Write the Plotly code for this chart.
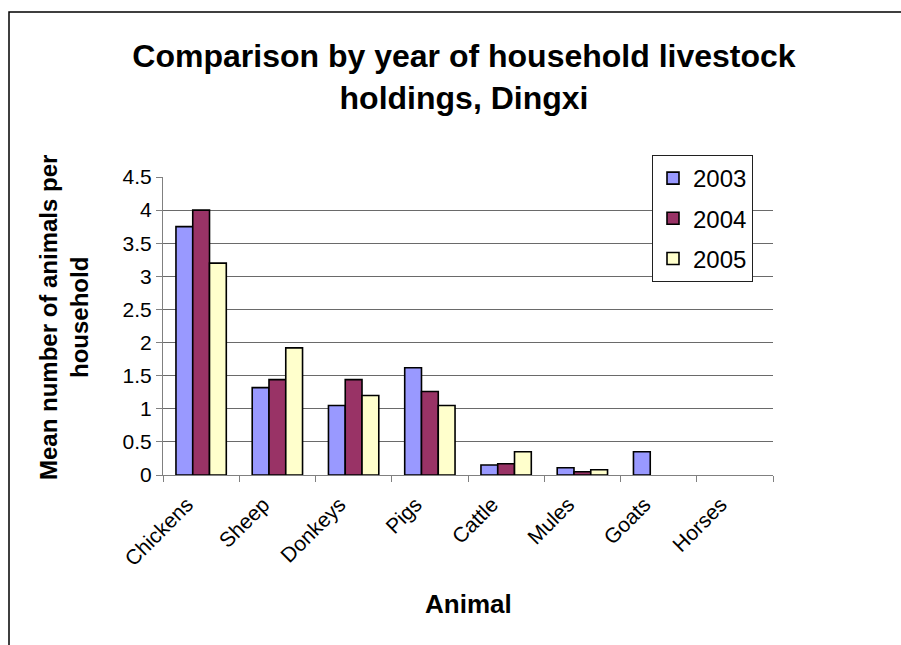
import plotly.graph_objects as go

# Mean number of animals per household, by year
animals = ["Chickens", "Sheep", "Donkeys", "Pigs", "Cattle", "Mules", "Goats", "Horses"]
years = ["2003", "2004", "2005"]
vals_2003 = [3.75, 1.32, 1.05, 1.62, 0.15, 0.11, 0.35, 0.0]
vals_2004 = [4.00, 1.44, 1.44, 1.26, 0.17, 0.05, 0.0, 0.0]
vals_2005 = [3.20, 1.92, 1.20, 1.05, 0.35, 0.08, 0.0, 0.0]
colors = ["#9999FF", "#993366", "#FFFFCC"]
y_ticks = [0, 0.5, 1, 1.5, 2, 2.5, 3, 3.5, 4, 4.5]

W, H = 901, 645
L, R, T, B = 163, 773, 177, 475  # plot area in pixels


def px(x):
    return (x - L) / (R - L)


def py(y):
    return (B - y) / (B - T)


FONT = "Liberation Sans, Arial, sans-serif"

fig = go.Figure()
for yr, vals, col in zip(years, [vals_2003, vals_2004, vals_2005], colors):
    fig.add_trace(go.Bar(
        x=animals, y=vals, name=yr, legendgroup=yr,
        marker=dict(color=col,
                    line=dict(color="black", width=[1.6 if v > 0 else 0 for v in vals])),
    ))

fig.update_layout(
    width=W, height=H,
    margin=dict(l=L, r=W - R, t=T, b=H - B, pad=0),
    paper_bgcolor="white", plot_bgcolor="white",
    barmode="group", bargap=0.34, bargroupgap=0,
    font=dict(family=FONT, color="black"),
    title=dict(
        text="<b>Comparison by year of household livestock<br>holdings, Dingxi</b>",
        x=px(464), xref="paper", xanchor="center",
        y=1 - 67 / H, yref="container", yanchor="middle",
        font=dict(size=32, family=FONT, color="black"),
    ),
    legend=dict(
        x=px(652), y=py(155), xanchor="left", yanchor="top",
        bgcolor="white", bordercolor="#202020", borderwidth=1,
        font=dict(size=24, family=FONT, color="black"),
        tracegroupgap=6, traceorder="grouped", itemwidth=30,
    ),
    showlegend=True,
)

fig.update_xaxes(
    type="category", showgrid=False, showline=True, linecolor="#808080", linewidth=1,
    ticks="outside", tickson="boundaries", ticklen=6, tickcolor="#808080",
    tickangle=-45, tickfont=dict(size=21, family=FONT, color="black"),
    ticklabelstandoff=8, ticklabelshift=-14, zeroline=False,
)
fig.update_yaxes(
    range=[0, 4.5], tickvals=y_ticks, ticktext=[f"{v:g}" for v in y_ticks],
    showgrid=True, gridcolor="#6a6a6a", gridwidth=1,
    showline=True, linecolor="#808080", linewidth=1,
    ticks="outside", ticklen=6, tickcolor="#808080",
    tickfont=dict(size=21, family=FONT, color="black"),
    zeroline=False,
)

# axis titles
fig.add_annotation(
    text="<b>Mean number of animals per<br>household</b>",
    x=px(64), y=py(318), xref="paper", yref="paper",
    textangle=-90, showarrow=False, xanchor="center", yanchor="middle",
    font=dict(size=24, family=FONT, color="black"),
)
fig.add_annotation(
    text="<b>Animal</b>",
    x=px(468), y=py(604), xref="paper", yref="paper",
    showarrow=False, xanchor="center", yanchor="middle",
    font=dict(size=26, family=FONT, color="black"),
)

# chart-area border (top and left edges)
fig.add_shape(
    type="path", xref="paper", yref="paper",
    path=f"M {px(9)},{py(H + 2)} L {px(9)},{py(12)} L {px(W + 2)},{py(12)}",
    line=dict(color="black", width=1.5),
)

fig.write_html("out.html")
